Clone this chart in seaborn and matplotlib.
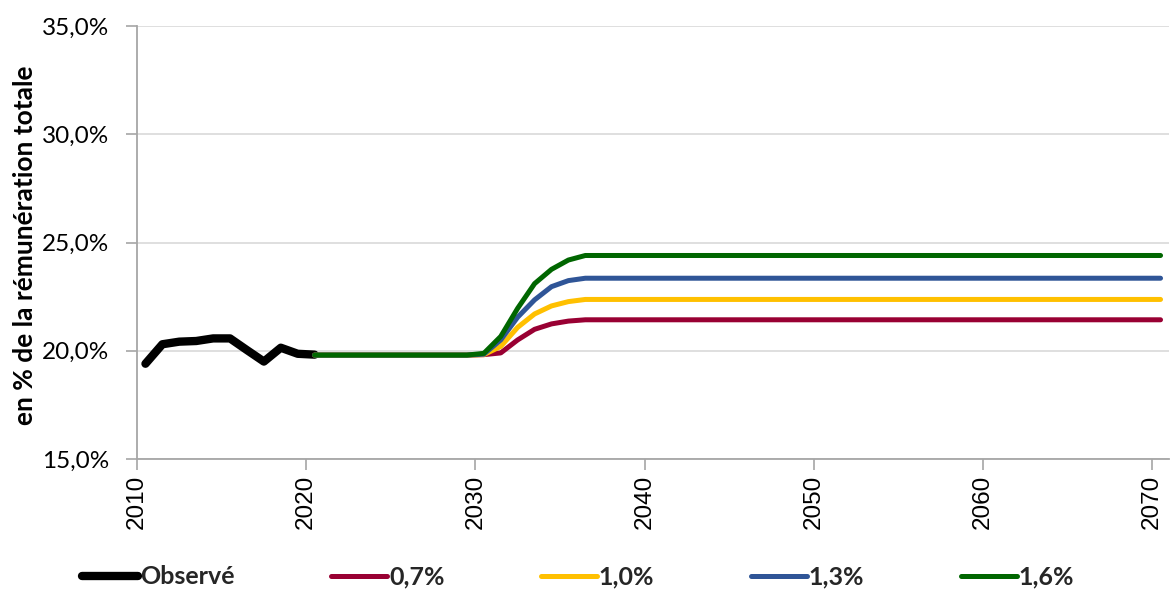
import numpy as np
import pandas as pd
import seaborn as sns
import matplotlib.pyplot as plt
from matplotlib.ticker import FuncFormatter, MultipleLocator

# Observed rate, 2010-2020 (% of total pay)
obs_years = list(range(2010, 2021))
obs_values = [19.4, 20.3, 20.42, 20.45, 20.57, 20.57, 20.03, 19.5, 20.14, 19.86, 19.82]

# Projection scenarios, 2020-2070: flat until 2029, ramp 2030-2036, flat after
proj_years = list(range(2020, 2071))
flat_start = [19.8] * 10                       # 2020-2029
ramp_07 = [19.82, 19.9, 20.5, 20.99, 21.24, 21.37, 21.43]   # 2030-2036
ramp_10 = [19.82, 20.2, 21.08, 21.7, 22.07, 22.27, 22.37]
ramp_13 = [19.84, 20.5, 21.55, 22.35, 22.96, 23.24, 23.35]
ramp_16 = [19.88, 20.66, 21.96, 23.1, 23.76, 24.19, 24.4]
n_tail = 34                                    # 2037-2070

scenario_labels = ["0,7%", "1,0%", "1,3%", "1,6%"]
scenario_ramps = [ramp_07, ramp_10, ramp_13, ramp_16]
scenario_colors = ["#990033", "#FFC000", "#2F5597", "#006600"]

sns.set_theme(style="white")
plt.rcParams["font.family"] = ["Lato", "DejaVu Sans"]

fig = plt.figure(figsize=(11.74, 5.90), dpi=100)
ax = fig.add_axes([137 / 1174, 1 - 459 / 590, (1169 - 137) / 1174, (459 - 26) / 590])

# each year is a category centred half a year after its tick
half = 0.5
obs_df = pd.DataFrame({"x": np.array(obs_years) + half, "y": obs_values})
sns.lineplot(data=obs_df, x="x", y="y", ax=ax, color="black", linewidth=6.0,
             solid_capstyle="round", solid_joinstyle="round", label="Observé")

for lab, ramp, col in zip(scenario_labels, scenario_ramps, scenario_colors):
    vals = flat_start + ramp + [ramp[-1]] * n_tail
    df = pd.DataFrame({"x": np.array(proj_years) + half, "y": vals})
    sns.lineplot(data=df, x="x", y="y", ax=ax, color=col, linewidth=3.6,
                 solid_capstyle="round", solid_joinstyle="round", label=lab)

ax.set_xlim(2010, 2071)
ax.set_ylim(15, 35)
ax.xaxis.set_major_locator(MultipleLocator(10))
ax.yaxis.set_major_locator(MultipleLocator(5))
ax.yaxis.set_major_formatter(FuncFormatter(lambda v, p: f"{v:.1f}%".replace(".", ",")))

ax.grid(axis="y", color="#D9D9D9", linewidth=1.2)
ax.grid(axis="x", visible=False)
for s in ["top", "right"]:
    ax.spines[s].set_visible(False)
for s in ["left", "bottom"]:
    ax.spines[s].set_color("#A6A6A6")
    ax.spines[s].set_linewidth(1.3)

ax.tick_params(axis="both", which="major", direction="out", length=8, width=1.2,
               color="#A6A6A6", bottom=True, left=True)
ax.tick_params(axis="y", labelsize=17.5, labelcolor="black", pad=12)
ax.tick_params(axis="x", labelsize=17.5, labelcolor="black", pad=3, labelrotation=90)
for t in ax.get_xticklabels():
    t.set_fontfamily(["Liberation Sans", "DejaVu Sans"])

ax.set_xlabel("")
ax.set_ylabel("en % de la rémunération totale", fontsize=19, fontweight="bold",
              color="black")
ax.yaxis.set_label_coords(-0.097, 0.494)

handles, labels = ax.get_legend_handles_labels()
ax.get_legend().remove()
leg = fig.legend(handles, labels, loc="center", bbox_to_anchor=(578 / 1174, 1 - 577 / 590),
                 ncol=5, frameon=False, handlelength=2.25, handletextpad=0.08,
                 columnspacing=3.85, prop={"weight": "bold", "size": 18})

fig.savefig("out.png", dpi=100)
